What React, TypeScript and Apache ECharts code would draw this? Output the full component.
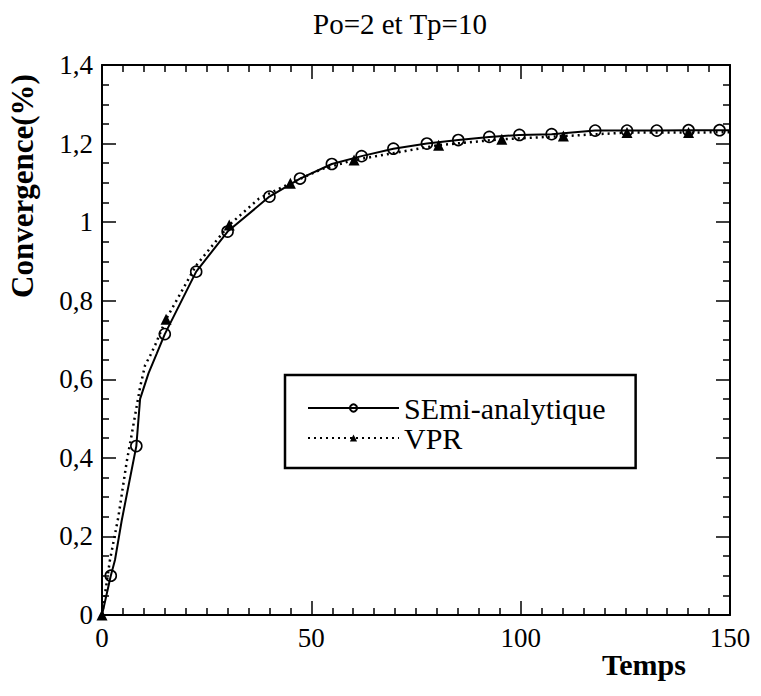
import React, { useEffect, useRef } from "react";
import * as echarts from "echarts";

// ---- Data ----
const titleText = "Po=2 et Tp=10";
const xName = "Temps";
const yName = "Convergence(%)";
const seriesNames = ["SEmi-analytique", "VPR"];

const xTicks = [0, 50, 100, 150];
const yTicks = [0, 0.2, 0.4, 0.6, 0.8, 1, 1.2, 1.4];

// Semi-analytique curve (solid line, open circles on marked points)
const semiT = [0, 2.1, 3.1, 4.7, 6.3, 8.2, 9.1, 11.1, 13.1, 15, 22.5, 30, 40, 47.3, 54.9, 62, 69.6, 77.6, 85.1, 92.5, 99.7, 107.4, 117.8, 125.4, 132.5, 140.1, 147.5, 150];
const semiC = [0, 0.1, 0.14, 0.24, 0.327, 0.43, 0.55, 0.615, 0.666, 0.715, 0.874, 0.976, 1.065, 1.111, 1.148, 1.168, 1.187, 1.2, 1.209, 1.217, 1.222, 1.224, 1.233, 1.233, 1.233, 1.234, 1.234, 1.234];
const semiMarked = [0, 1, 0, 0, 0, 1, 0, 0, 0, 1, 1, 1, 1, 1, 1, 1, 1, 1, 1, 1, 1, 1, 1, 1, 1, 1, 1, 0];

// VPR curve (dotted line, filled triangles on marked points)
const vprT = [0, 1.9, 3.9, 5.9, 7.1, 9.1, 10.3, 11.5, 12.7, 15.3, 22.5, 30.4, 37.5, 45, 52.5, 60.2, 80.4, 95.5, 110.2, 125.4, 140.1, 150];
const vprC = [0, 0.14, 0.249, 0.39, 0.46, 0.58, 0.636, 0.66, 0.687, 0.753, 0.89, 0.993, 1.06, 1.099, 1.135, 1.158, 1.196, 1.211, 1.219, 1.228, 1.228, 1.229];
const vprMarked = [1, 0, 0, 0, 0, 0, 0, 0, 0, 1, 0, 1, 0, 1, 0, 1, 1, 1, 1, 1, 1, 0];

const FONT = "Liberation Serif, Times New Roman, Times, DejaVu Serif, serif";

function buildData(t: number[], c: number[], m: number[]) {
  return t.map((x, i) =>
    m[i] ? { value: [x, c[i]] } : { value: [x, c[i]], symbol: "none" }
  );
}

function fmtY(v: number) {
  const found = yTicks.find((t) => Math.abs(t - v) < 1e-6);
  const val = found !== undefined ? found : v;
  return String(+val.toFixed(1)).replace(".", ",");
}

function makeAxis(kind: "x" | "y", pos: string, labels: boolean) {
  const ticks = kind === "x" ? xTicks : yTicks;
  return {
    type: "value",
    position: pos,
    min: ticks[0],
    max: ticks[ticks.length - 1],
    interval: kind === "x" ? 50 : 0.2,
    axisLine: { show: true, onZero: false, lineStyle: { color: "#000", width: 2 } },
    splitLine: { show: false },
    axisTick: { show: true, inside: true, length: 14, lineStyle: { color: "#000", width: 1.5 } },
    minorTick: {
      show: true,
      splitNumber: kind === "x" ? 10 : 4,
      length: 7,
      lineStyle: { color: "#000", width: 1.5 },
    },
    axisLabel: labels
      ? {
          show: true,
          color: "#000",
          fontFamily: FONT,
          fontSize: 27,
          margin: 9,
          formatter: kind === "y" ? (v: number) => fmtY(v) : undefined,
        }
      : { show: false },
  };
}

export default function App() {
  const ref = useRef<HTMLDivElement>(null);

  useEffect(() => {
    if (!ref.current) return;
    const chart = echarts.init(ref.current, undefined, { renderer: "svg" });

    const option: any = {
      animation: false,
      backgroundColor: "#fff",
      grid: { left: 102, top: 65, width: 628, height: 550, containLabel: false },
      xAxis: [makeAxis("x", "bottom", true), makeAxis("x", "top", false)],
      yAxis: [makeAxis("y", "left", true), makeAxis("y", "right", false)],
      legend: {
        show: true,
        orient: "vertical",
        left: 285,
        top: 375,
        data: seriesNames,
        backgroundColor: "#fff",
        borderColor: "#000",
        borderWidth: 2.5,
        borderRadius: 0,
        padding: [18, 30, 15, 22],
        itemGap: 0,
        itemWidth: 91,
        itemHeight: 9,
        textStyle: { color: "#000", fontFamily: FONT, fontSize: 30, lineHeight: 30 },
      },
      graphic: [
        {
          type: "text",
          x: 400,
          y: 24,
          style: {
            text: titleText,
            fill: "#000",
            fontFamily: FONT,
            fontSize: 29,
            textAlign: "center",
            textVerticalAlign: "middle",
          },
        },
        {
          type: "text",
          x: 644,
          y: 664,
          style: {
            text: xName,
            fill: "#000",
            fontFamily: FONT,
            fontSize: 30,
            fontWeight: "bold",
            textAlign: "center",
            textVerticalAlign: "middle",
          },
        },
        {
          type: "text",
          x: 22,
          y: 186,
          rotation: Math.PI / 2,
          style: {
            text: yName,
            fill: "#000",
            fontFamily: FONT,
            fontSize: 31,
            fontWeight: "bold",
            textAlign: "center",
            textVerticalAlign: "middle",
          },
        },
      ],
      series: [
        {
          name: seriesNames[0],
          type: "line",
          xAxisIndex: 0,
          yAxisIndex: 0,
          clip: false,
          data: buildData(semiT, semiC, semiMarked),
          symbol: "circle",
          symbolSize: 11,
          showSymbol: true,
          lineStyle: { color: "#000", width: 2, type: "solid" },
          itemStyle: { color: "rgba(255,255,255,0)", borderColor: "#000", borderWidth: 1.6 },
          z: 2,
        },
        {
          name: seriesNames[1],
          type: "line",
          xAxisIndex: 0,
          yAxisIndex: 0,
          clip: false,
          data: buildData(vprT, vprC, vprMarked),
          symbol: "triangle",
          symbolSize: 11,
          showSymbol: true,
          lineStyle: { color: "#000", width: 2.5, type: [2, 4] },
          itemStyle: { color: "#000", borderWidth: 0 },
          z: 3,
        },
      ],
    };

    chart.setOption(option);
    return () => chart.dispose();
  }, []);

  return (
    <div
      ref={ref}
      style={{ position: "fixed", left: 0, top: 0, width: 761, height: 696, background: "#fff" }}
    />
  );
}
